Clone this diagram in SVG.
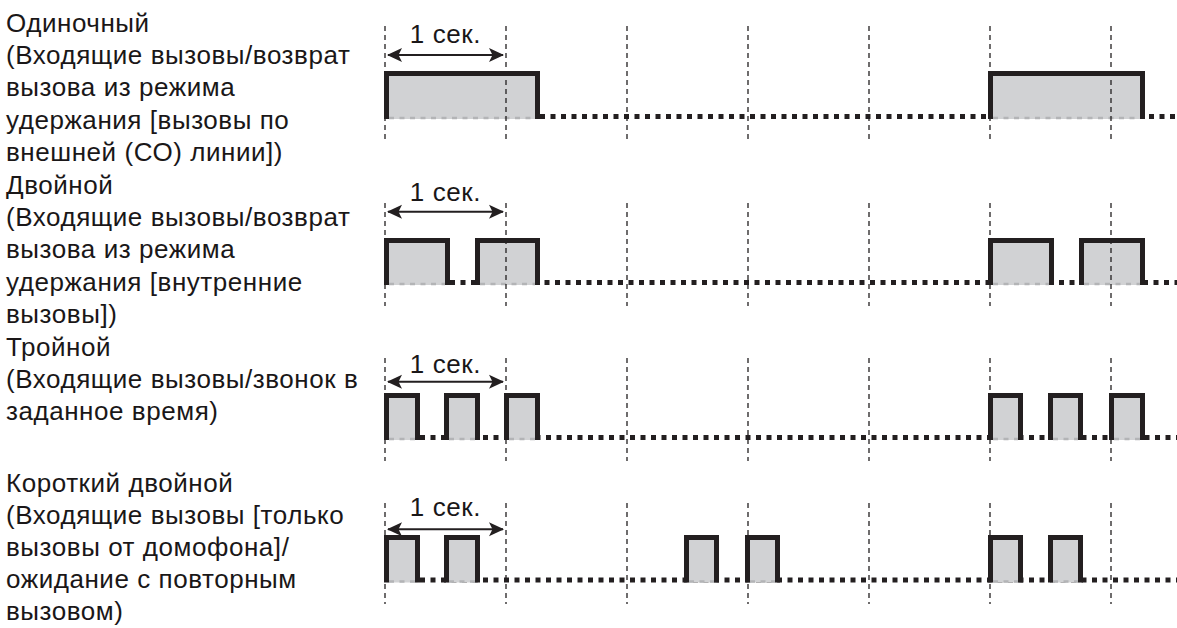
<svg xmlns="http://www.w3.org/2000/svg" width="1177" height="628" viewBox="0 0 1177 628">
<style>
.lbl{font-family:"Liberation Sans",Arial,sans-serif;font-size:26px;letter-spacing:0.55px;fill:#1a1718}
.sec{font-family:"Liberation Sans",Arial,sans-serif;font-size:26px;letter-spacing:0.6px;fill:#1a1718;text-anchor:middle}
.grid{stroke:#231f20;stroke-width:1.3;stroke-dasharray:5 4;fill:none}
.base{stroke:#231f20;stroke-width:5;stroke-dasharray:5 5.5;fill:none}
.lite{stroke:#b3b4b6;stroke-width:2.5;stroke-dasharray:5 5.5;fill:none}
.fill{fill:#d1d2d4;stroke:none}
.edge{stroke:#231f20;stroke-width:5;fill:none;stroke-linejoin:miter}
.arr{stroke:#231f20;stroke-width:2;fill:none;marker-start:url(#ah);marker-end:url(#ah)}
</style>
<defs>
<marker id="ah" viewBox="0 0 16 16" refX="14" refY="8" markerWidth="16" markerHeight="16" markerUnits="userSpaceOnUse" orient="auto-start-reverse">
<path d="M0,1 L15,8 L0,15 L3.5,8 Z" fill="#231f20"/>
</marker>
</defs>

<g id="labels">
<text class="lbl" x="6" y="31.5">Одиночный</text>
<text class="lbl" x="6" y="63.9">(Входящие вызовы/возврат</text>
<text class="lbl" x="6" y="96.3">вызова из режима</text>
<text class="lbl" x="6" y="128.7">удержания [вызовы по</text>
<text class="lbl" x="6" y="161.1">внешней (СО) линии])</text>
<text class="lbl" x="6" y="193.5">Двойной</text>
<text class="lbl" x="6" y="225.9">(Входящие вызовы/возврат</text>
<text class="lbl" x="6" y="258.3">вызова из режима</text>
<text class="lbl" x="6" y="290.7">удержания [внутренние</text>
<text class="lbl" x="6" y="323.1">вызовы])</text>
<text class="lbl" x="6" y="355.5">Тройной</text>
<text class="lbl" x="6" y="387.9">(Входящие вызовы/звонок в</text>
<text class="lbl" x="6" y="420.3">заданное время)</text>
<text class="lbl" x="6" y="492">Короткий двойной</text>
<text class="lbl" x="6" y="524">(Входящие вызовы [только</text>
<text class="lbl" x="6" y="556">вызовы от домофона]/</text>
<text class="lbl" x="6" y="588">ожидание с повторным</text>
<text class="lbl" x="6" y="620">вызовом)</text>
</g>

<g id="row1">
<path class="base" d="M540,116.5 H1177"/>
<path class="fill" d="M386.5,119 V73.5 H537.5 V119 Z M990.5,119 V73.5 H1142.5 V119 Z"/>
<path class="lite" d="M389,118 H535 M993,118 H1140"/>
<path class="grid" d="M385,26 V140 M506,26 V140 M627,26 V140 M748,26 V140 M869,26 V140 M990,26 V140 M1111,26 V140"/>
<path class="edge" d="M386.5,119 V73.5 H537.5 V119 M990.5,119 V73.5 H1142.5 V119"/>
<text class="sec" x="445.5" y="43">1 сек.</text>
<line class="arr" x1="388" y1="55" x2="503" y2="55"/>
</g>

<g id="row2">
<path class="base" d="M450,282.5 H1177"/>
<path class="fill" d="M386.5,285 V240.5 H447.5 V285 Z M477.5,285 V240.5 H537.5 V285 Z M990.5,285 V240.5 H1051.5 V285 Z M1081.5,285 V240.5 H1142.5 V285 Z"/>
<path class="lite" d="M389,284 H445 M480,284 H535 M993,284 H1049 M1084,284 H1140"/>
<path class="grid" d="M385,203 V306 M506,203 V306 M627,203 V306 M748,203 V306 M869,203 V306 M990,203 V306 M1111,203 V306"/>
<path class="edge" d="M386.5,285 V240.5 H447.5 V285 M477.5,285 V240.5 H537.5 V285 M990.5,285 V240.5 H1051.5 V285 M1081.5,285 V240.5 H1142.5 V285"/>
<text class="sec" x="445.5" y="200.7">1 сек.</text>
<line class="arr" x1="388" y1="211.7" x2="503" y2="211.7"/>
</g>

<g id="row3">
<path class="base" d="M420,437.5 H1177"/>
<path class="fill" d="M386.5,440 V395.5 H417.5 V440 Z M446.5,440 V395.5 H477.5 V440 Z M506.5,440 V395.5 H537.5 V440 Z M990.5,440 V395.5 H1020.5 V440 Z M1050.5,440 V395.5 H1080.5 V440 Z M1111.5,440 V395.5 H1142.5 V440 Z"/>
<path class="lite" d="M389,439 H415 M449,439 H475 M509,439 H535 M993,439 H1018 M1053,439 H1078 M1114,439 H1140"/>
<path class="grid" d="M385,358 V461 M506,358 V461 M627,358 V461 M748,358 V461 M869,358 V461 M990,358 V461 M1111,358 V461"/>
<path class="edge" d="M386.5,440 V395.5 H417.5 V440 M446.5,440 V395.5 H477.5 V440 M506.5,440 V395.5 H537.5 V440 M990.5,440 V395.5 H1020.5 V440 M1050.5,440 V395.5 H1080.5 V440 M1111.5,440 V395.5 H1142.5 V440"/>
<text class="sec" x="445.5" y="372.7">1 сек.</text>
<line class="arr" x1="388" y1="381.7" x2="503" y2="381.7"/>
</g>

<g id="row4">
<path class="base" d="M420,580 H1177"/>
<path class="fill" d="M386.5,582.5 V537.5 H417.5 V582.5 Z M446.5,582.5 V537.5 H477.5 V582.5 Z M686.5,582.5 V537.5 H716.5 V582.5 Z M747.5,582.5 V537.5 H777.5 V582.5 Z M990.5,582.5 V537.5 H1020.5 V582.5 Z M1050.5,582.5 V537.5 H1080.5 V582.5 Z"/>
<path class="lite" d="M389,581.5 H415 M449,581.5 H475 M689,581.5 H714 M750,581.5 H775 M993,581.5 H1018 M1053,581.5 H1078"/>
<path class="grid" d="M385,503 V604 M506,503 V604 M627,503 V604 M748,503 V604 M869,503 V604 M990,503 V604 M1111,503 V604"/>
<path class="edge" d="M386.5,582.5 V537.5 H417.5 V582.5 M446.5,582.5 V537.5 H477.5 V582.5 M686.5,582.5 V537.5 H716.5 V582.5 M747.5,582.5 V537.5 H777.5 V582.5 M990.5,582.5 V537.5 H1020.5 V582.5 M1050.5,582.5 V537.5 H1080.5 V582.5"/>
<text class="sec" x="445.5" y="516">1 сек.</text>
<line class="arr" x1="388" y1="529.3" x2="503" y2="529.3"/>
</g>
</svg>
